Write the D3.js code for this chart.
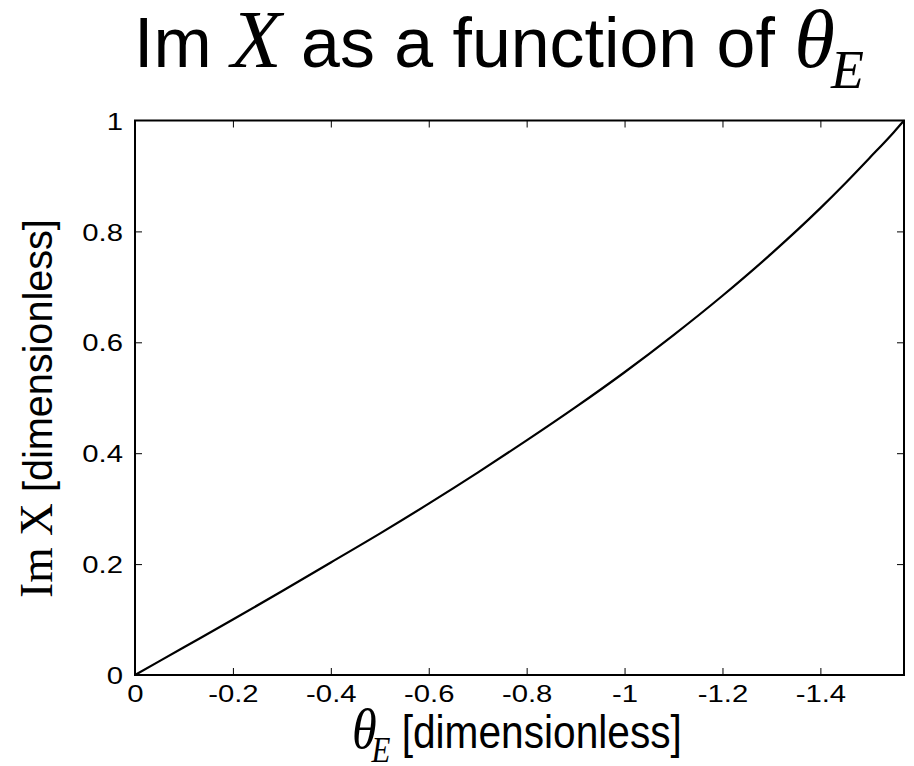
<!DOCTYPE html>
<html>
<head>
<meta charset="utf-8">
<script src="https://cdn.jsdelivr.net/npm/d3@7"></script>
<style>
  body { margin: 0; background: #fff; }
  svg { display: block; }
</style>
</head>
<body>
<svg id="chart" width="914" height="766"></svg>
<script>
// θ_E samples from 0 to -π/2 and the imaginary part of X at each one
const thetaE = [0, -0.1, -0.2, -0.3, -0.4, -0.5, -0.6, -0.7, -0.8, -0.9, -1.0,
                -1.1, -1.2, -1.3, -1.4, -1.45, -1.5, -1.55, -1.5708];
const imX = [0, 0.050, 0.100, 0.151, 0.203, 0.255, 0.309, 0.365, 0.423, 0.483, 0.546,
             0.613, 0.684, 0.760, 0.842, 0.886, 0.932, 0.979, 1.0];
const xTicks = [0, -0.2, -0.4, -0.6, -0.8, -1, -1.2, -1.4];
const yTicks = [0, 0.2, 0.4, 0.6, 0.8, 1];

const svg = d3.select("#chart");
const sans = "'Liberation Sans', Arial, Helvetica, sans-serif";
const serif = "'Liberation Serif', 'Times New Roman', serif";

const m = { left: 135, right: 904, top: 120.5, bottom: 675 };
const x = d3.scaleLinear().domain([0, -1.5708]).range([m.left, m.right]);
const y = d3.scaleLinear().domain([0, 1]).range([m.bottom, m.top]);

const tickLen = 7;
const tickFont = 24;
const tickStretch = 1.22;
const fmt = d => String(d);

// bottom axis with labels, ticks pointing into the plot
const gx = svg.append("g").attr("transform", `translate(0,${m.bottom})`)
  .call(d3.axisBottom(x).tickValues(xTicks).tickFormat(fmt).tickSizeInner(-tickLen).tickSizeOuter(0));
// top axis, ticks only
const gxt = svg.append("g").attr("transform", `translate(0,${m.top})`)
  .call(d3.axisTop(x).tickValues(xTicks).tickFormat("").tickSizeInner(-tickLen).tickSizeOuter(0));
// left axis with labels
const gy = svg.append("g").attr("transform", `translate(${m.left},0)`)
  .call(d3.axisLeft(y).tickValues(yTicks).tickFormat(fmt).tickSizeInner(-tickLen).tickSizeOuter(0));
// right axis, ticks only
const gyr = svg.append("g").attr("transform", `translate(${m.right},0)`)
  .call(d3.axisRight(y).tickValues(yTicks).tickFormat("").tickSizeInner(-tickLen).tickSizeOuter(0));

[gx, gxt, gy, gyr].forEach(g => {
  g.attr("font-family", sans).attr("font-size", tickFont);
  g.select(".domain").remove();
  g.selectAll(".tick line").attr("stroke", "#000").attr("stroke-width", 1);
  g.selectAll(".tick text").attr("fill", "#000");
});
// drop ticks that would sit on the frame corners
[gx, gxt].forEach(g => g.selectAll(".tick line").filter(d => d === 0).remove());
[gy, gyr].forEach(g => g.selectAll(".tick line").filter(d => d === 0 || d === 1).remove());

// wide tick numerals
gx.selectAll(".tick text")
  .attr("y", 27.5).attr("dy", null)
  .attr("transform", `scale(${tickStretch},1)`);
gy.selectAll(".tick text")
  .attr("x", -12 / tickStretch).attr("dy", "0.36em")
  .attr("transform", `scale(${tickStretch},1)`);

// plot frame
svg.append("rect")
  .attr("x", m.left).attr("y", m.top)
  .attr("width", m.right - m.left).attr("height", m.bottom - m.top)
  .attr("fill", "none").attr("stroke", "#000").attr("stroke-width", 2);

// the curve
const line = d3.line()
  .x((d, i) => x(thetaE[i]))
  .y(d => y(d))
  .curve(d3.curveMonotoneX);
svg.append("path")
  .datum(imX)
  .attr("d", line)
  .attr("fill", "none")
  .attr("stroke", "#000")
  .attr("stroke-width", 2.2);

// squeeze or stretch a text line along its own direction so it spans [start, end]
function fitLine(text, start, end) {
  const b = text.node().getBBox();
  const s = (end - start) / b.width;
  text.attr("transform", `translate(${start - b.x * s},0) scale(${s},1)`);
}

// title
const title = svg.append("text")
  .attr("x", 0).attr("y", 67)
  .style("font-family", sans).style("font-size", "70px").attr("fill", "#000");
title.append("tspan").text("Im ");
title.append("tspan").style("font-family", serif).style("font-style", "italic").style("font-size", "83px").text("X");
title.append("tspan").text(" as a function of ");
title.append("tspan").style("font-family", serif).style("font-style", "italic").style("font-size", "83px").text("θ");
title.append("tspan").style("font-family", serif).style("font-style", "italic").style("font-size", "54px")
  .attr("dy", 21).attr("dx", -4).text("E");
fitLine(title, 134, 864);

// x label
const xl = svg.append("text")
  .attr("x", 0).attr("y", 748)
  .style("font-family", sans).style("font-size", "46px").attr("fill", "#000");
xl.append("tspan").style("font-family", serif).style("font-style", "italic").style("font-size", "57px").text("θ");
xl.append("tspan").style("font-family", serif).style("font-style", "italic").style("font-size", "35px")
  .attr("dy", 14).attr("dx", -6).text("E");
xl.append("tspan").attr("dy", -14).text(" [dimensionless]");
fitLine(xl, 352, 682);

// y label, read bottom to top
const ylg = svg.append("g").attr("transform", "translate(52,598) rotate(-90)");
const yl = ylg.append("text")
  .attr("x", 0).attr("y", 0)
  .style("font-family", sans).style("font-size", "40px").attr("fill", "#000");
yl.append("tspan").style("font-family", serif).style("font-size", "46px").text("Im ");
yl.append("tspan").style("font-family", serif).style("font-size", "46px").text("X");
yl.append("tspan").text(" [dimensionless]");
fitLine(yl, 0, 379);
</script>
</body>
</html>
